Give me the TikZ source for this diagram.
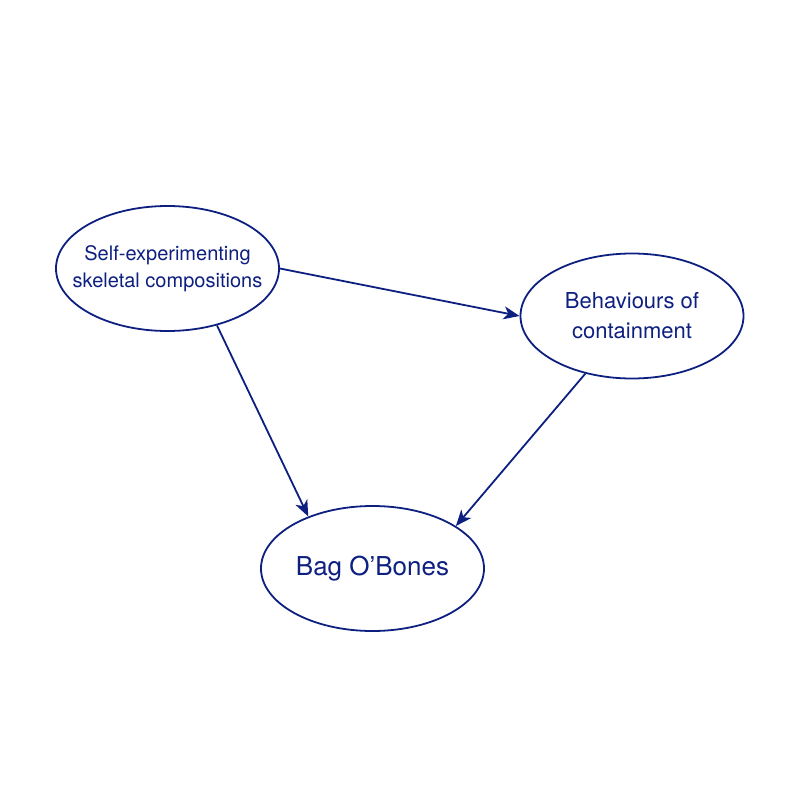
\documentclass[tikz,border=0pt]{standalone}
\usepackage{fontspec}
\setmainfont{TeX Gyre Heros}
\usetikzlibrary{arrows.meta,shapes.geometric}
\definecolor{navy}{HTML}{0D1F7F}
\begin{document}
\begin{tikzpicture}[x=1pt,y=-1pt,
  bub/.style={ellipse,draw=navy,line width=1.8pt,minimum width=223pt,minimum height=125pt,inner xsep=-40pt,inner ysep=0pt,text=navy,align=center},
  conn/.style={draw=navy,line width=1.8pt,-{Stealth[length=16pt,width=13pt,inset=4.5pt]}}]
\useasboundingbox (0,0) rectangle (800,800);
\node[bub,font=\fontsize{20}{27}\selectfont] (a) at (167.5,268.5) {Self-experimenting\\skeletal compositions};
\node[bub,font=\fontsize{22}{30}\selectfont] (b) at (632,316) {Behaviours of\\containment};
\node[bub,font=\fontsize{26}{30}\selectfont] (c) at (372.5,568.5) {Bag O’Bones};
\draw[conn] (a.east) -- (b.west);
\draw[conn] (a.-49.4) -- (c.141.6);
\draw[conn] (b.-129.5) -- (c.27);
\end{tikzpicture}
\end{document}
